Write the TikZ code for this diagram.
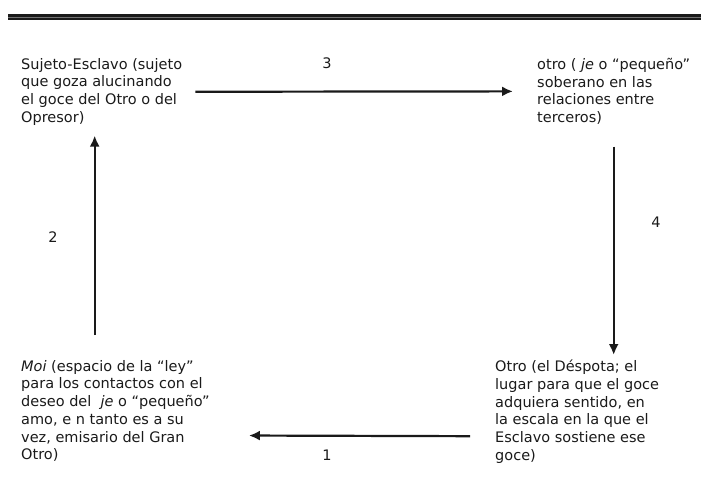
\documentclass[tikz,border=0pt]{standalone}
\usepackage{fontspec}
\setmainfont{DejaVu Sans}
\usetikzlibrary{arrows.meta, positioning}
\definecolor{ink}{HTML}{1A1A1A}
\tikzset{
  txt/.style={anchor=north west, inner sep=0pt, align=left, text=ink,
    font=\fontsize{14.5}{17.7}\selectfont},
  num/.style={inner sep=0pt, text=ink, font=\fontsize{14.5}{17.7}\selectfont},
  arr/.style={draw=ink, line width=2.2pt, -{Latex[length=11pt,width=10pt]}}
}
\begin{document}
\begin{tikzpicture}[x=1pt,y=-1pt]
	\useasboundingbox (0,0) rectangle (701,496);
	% top rule
	\fill[ink] (8,14) rectangle (701,20);
	\draw[black!55, line width=0.8pt] (8,17) -- (701,17);

	\node[txt] (sl) at (21,58) {Sujeto-Esclavo (sujeto\\que goza alucinando\\el goce del Otro o del\\Opresor)};
	\node[txt] (ot) at (537,58) {otro ( \textit{je} o “pequeño”\\soberano en las\\relaciones entre\\terceros)};
	\node[txt] (ml) at (21,360) {\textit{Moi} (espacio de la “ley”\\para los contactos con el\\deseo del \ \textit{je} o “pequeño”\\amo, e n tanto es a su\\vez, emisario del Gran\\Otro)};
	\node[txt] (od) at (495,360) {Otro (el Déspota; el\\lugar para que el goce\\adquiera sentido, en\\la escala en la que el\\Esclavo sostiene ese\\goce)};

	\node[num] (n3) at (327,63) {3};
	\node[num] (n4) at (656,222) {4};
	\node[num] (n1) at (327,455) {1};
	\node[num] (n2) at (53,237) {2};

	\draw[arr, shorten <=13pt, shorten >=24pt] (sl.east) -- (ot.west);
	\draw[arr, shorten <=22pt, shorten >=5pt] (ot.south) -- (ot.south |- od.north);
	\draw[arr, shorten <=25pt, shorten >=39pt] ([yshift=-24.5pt]od.west) -- ([yshift=-24.5pt]ml.east);
	\draw[arr, shorten <=25pt, shorten >=10pt] ([xshift=-7pt]sl.south |- ml.north) -- ([xshift=-7pt]sl.south);
\end{tikzpicture}
\end{document}
